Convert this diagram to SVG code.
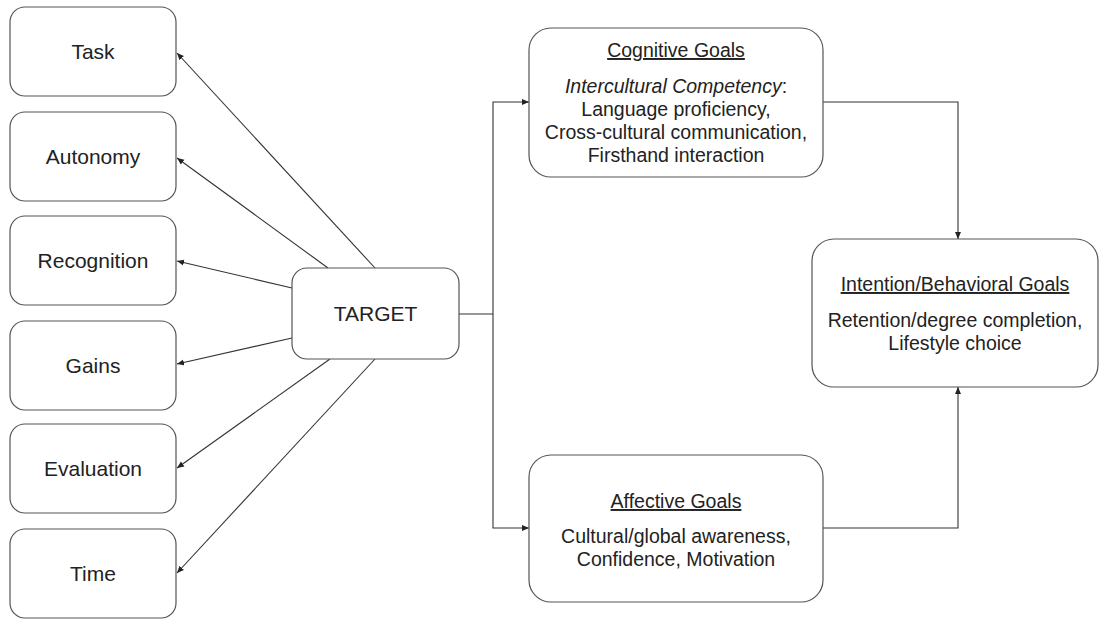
<svg xmlns="http://www.w3.org/2000/svg" width="1100" height="620" viewBox="0 0 1100 620">
<style>
.box{fill:#fff;stroke:#555;stroke-width:1.2}
.lbl{font-family:"Liberation Sans",Arial,sans-serif;font-size:21px;fill:#222;text-anchor:middle}
.txt{font-family:"Liberation Sans",Arial,sans-serif;font-size:19.5px;fill:#222;text-anchor:middle}
.hd{text-decoration:underline}
.con{fill:none;stroke:#333;stroke-width:1.1}
</style>
<defs>
<marker id="ah" markerUnits="userSpaceOnUse" markerWidth="8" markerHeight="8" refX="7" refY="4" orient="auto">
<path d="M0,1 L7,4 L0,7 Z" fill="#222"/>
</marker>
</defs>
<rect width="1100" height="620" fill="#fff"/>
<g id="connectors">
<line class="con" x1="375" y1="268" x2="177" y2="53" marker-end="url(#ah)"/>
<line class="con" x1="328" y1="268" x2="177" y2="158" marker-end="url(#ah)"/>
<line class="con" x1="292" y1="288" x2="177" y2="261" marker-end="url(#ah)"/>
<line class="con" x1="292" y1="338" x2="177" y2="364" marker-end="url(#ah)"/>
<line class="con" x1="330" y1="359" x2="177" y2="468" marker-end="url(#ah)"/>
<line class="con" x1="375" y1="359" x2="177" y2="573" marker-end="url(#ah)"/>
<polyline class="con" points="459,314 493,314"/>
<polyline class="con" points="493,314 493,102 529,102" marker-end="url(#ah)"/>
<polyline class="con" points="493,314 493,528 529,528" marker-end="url(#ah)"/>
<polyline class="con" points="823,102 958,102 958,239" marker-end="url(#ah)"/>
<polyline class="con" points="823,528 958,528 958,387" marker-end="url(#ah)"/>
</g>
<g id="task"><rect class="box" x="10" y="7" width="166" height="89" rx="15"/><text class="lbl" x="93" y="59">Task</text></g>
<g id="autonomy"><rect class="box" x="10" y="112" width="166" height="89" rx="15"/><text class="lbl" x="93" y="164">Autonomy</text></g>
<g id="recognition"><rect class="box" x="10" y="216" width="166" height="89" rx="15"/><text class="lbl" x="93" y="268">Recognition</text></g>
<g id="gains"><rect class="box" x="10" y="321" width="166" height="89" rx="15"/><text class="lbl" x="93" y="373">Gains</text></g>
<g id="evaluation"><rect class="box" x="10" y="424" width="166" height="89" rx="15"/><text class="lbl" x="93" y="476">Evaluation</text></g>
<g id="time"><rect class="box" x="10" y="529" width="166" height="89" rx="15"/><text class="lbl" x="93" y="581">Time</text></g>
<g id="target"><rect class="box" x="292" y="268" width="167" height="91" rx="15"/><text class="lbl" x="375.5" y="321">TARGET</text></g>
<g id="cognitive"><rect class="box" x="529" y="28" width="294" height="149" rx="22"/>
<text class="txt hd" x="676" y="57">Cognitive Goals</text>
<text class="txt" x="676" y="93"><tspan font-style="italic">Intercultural Competency</tspan>:</text>
<text class="txt" x="676" y="116">Language proficiency,</text>
<text class="txt" x="676" y="139">Cross-cultural communication,</text>
<text class="txt" x="676" y="162">Firsthand interaction</text>
</g>
<g id="affective"><rect class="box" x="529" y="455" width="294" height="147" rx="22"/>
<text class="txt hd" x="676" y="508">Affective Goals</text>
<text class="txt" x="676" y="543">Cultural/global awareness,</text>
<text class="txt" x="676" y="566">Confidence, Motivation</text>
</g>
<g id="intention"><rect class="box" x="812" y="239" width="286" height="148" rx="22"/>
<text class="txt hd" x="955" y="291">Intention/Behavioral Goals</text>
<text class="txt" x="955" y="327">Retention/degree completion,</text>
<text class="txt" x="955" y="350">Lifestyle choice</text>
</g>
</svg>
